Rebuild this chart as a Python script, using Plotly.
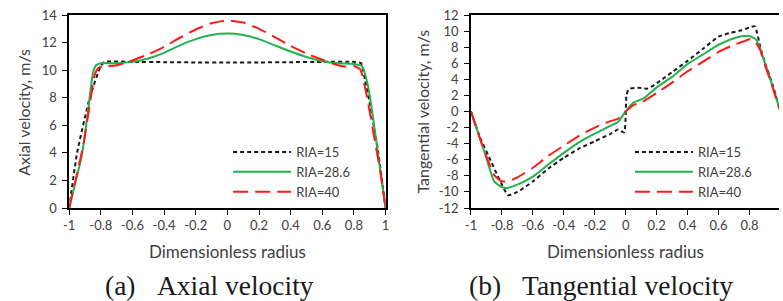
import plotly.graph_objects as go

# ---------------- data ----------------
series_names = ["RIA=15", "RIA=28.6", "RIA=40"]

# (a) Axial velocity
ax_r15 = [-1, -0.95, -0.87, -0.8, -0.775, -0.6, -0.4, -0.2, 0, 0.2, 0.4, 0.6, 0.8, 0.845, 0.87, 0.9, 0.95, 1]
ax_v15 = [0, 4.0, 8.0, 10.3, 10.6, 10.6, 10.58, 10.56, 10.55, 10.56, 10.58, 10.6, 10.6, 10.5, 9.3, 7.6, 4.3, 0]

ax_r28 = [-1, -0.96, -0.92, -0.88, -0.85, -0.83, -0.8, -0.7, -0.6, -0.5, -0.4, -0.3, -0.2, -0.1, 0,
          0.1, 0.2, 0.3, 0.4, 0.5, 0.6, 0.7, 0.8, 0.85, 0.89, 0.93, 0.97, 1]
ax_v28 = [0, 1.9, 3.8, 7.1, 9.8, 10.35, 10.5, 10.5, 10.6, 10.85, 11.25, 11.8, 12.25, 12.55, 12.65,
          12.55, 12.25, 11.8, 11.35, 10.95, 10.65, 10.5, 10.45, 10.3, 8.8, 5.8, 2.4, 0]

ax_r40 = [-1, -0.95, -0.91, -0.87, -0.84, -0.82, -0.79, -0.75, -0.7, -0.6, -0.5, -0.4, -0.3, -0.2, -0.1, 0,
          0.1, 0.2, 0.3, 0.4, 0.5, 0.6, 0.7, 0.75, 0.8, 0.84, 0.88, 0.93, 0.97, 1]
ax_v40 = [0, 2.5, 4.6, 7.5, 9.6, 10.1, 10.3, 10.3, 10.35, 10.7, 11.15, 11.7, 12.35, 12.95, 13.4, 13.6,
          13.45, 13.0, 12.4, 11.75, 11.2, 10.75, 10.35, 10.25, 10.3, 10.05, 8.2, 5.0, 2.4, 0]

# (b) Tangential velocity
tg_r15 = [-1, -0.94, -0.88, -0.82, -0.76, -0.7, -0.6, -0.5, -0.4, -0.3, -0.2, -0.1, -0.05, -0.01, 0.005, 0.02,
          0.08, 0.14, 0.2, 0.25, 0.3, 0.4, 0.5, 0.6, 0.68, 0.75, 0.8, 0.835, 0.87, 0.9, 0.95, 1]
tg_v15 = [0, -3.3, -5.8, -8.3, -10.4, -10.0, -8.7, -7.1, -5.75, -4.6, -3.7, -2.8, -2.25, -2.6, 2.0, 2.8,
          2.95, 2.85, 3.5, 4.2, 4.9, 6.3, 7.8, 9.3, 9.8, 10.1, 10.45, 10.6, 8.0, 6.1, 3.3, 0]

tg_r28 = [-1, -0.95, -0.9, -0.85, -0.8, -0.77, -0.7, -0.6, -0.5, -0.4, -0.3, -0.2, -0.1, -0.05, 0,
          0.05, 0.12, 0.2, 0.3, 0.4, 0.5, 0.6, 0.7, 0.75, 0.8, 0.84, 0.87, 0.9, 0.95, 1]
tg_v28 = [0, -2.9, -5.8, -8.7, -9.4, -9.5, -9.1, -8.1, -6.6, -5.15, -3.8, -2.75, -1.8, -1.3, 0,
          1.1, 1.7, 3.0, 4.3, 5.9, 7.1, 8.3, 9.1, 9.35, 9.4, 9.0, 7.8, 6.0, 3.1, 0]

tg_r40 = [-1, -0.95, -0.9, -0.85, -0.8, -0.75, -0.7, -0.6, -0.5, -0.4, -0.3, -0.2, -0.1, -0.05, 0,
          0.05, 0.1, 0.2, 0.3, 0.4, 0.5, 0.6, 0.7, 0.76, 0.8, 0.84, 0.87, 0.9, 0.95, 1]
tg_v40 = [0, -2.9, -5.6, -7.9, -8.7, -8.6, -8.2, -7.0, -5.5, -4.25, -3.0, -2.0, -1.2, -0.9, 0,
          0.8, 1.1, 2.3, 3.6, 5.0, 6.2, 7.4, 8.3, 8.7, 9.0, 8.6, 7.6, 5.8, 3.0, 0]

x_tickvals = [-1, -0.8, -0.6, -0.4, -0.2, 0, 0.2, 0.4, 0.6, 0.8, 1]
x_ticktext = ["-1", "-0.8", "-0.6", "-0.4", "-0.2", "0", "0.2", "0.4", "0.6", "0.8", "1"]
ax_y_tickvals = [0, 2, 4, 6, 8, 10, 12, 14]
ax_y_ticktext = ["0", "2", "4", "6", "8", "10", "12", "14"]
tg_y_tickvals = [-12, -10, -8, -6, -4, -2, 0, 2, 4, 6, 8, 10, 12]
tg_y_ticktext = ["-12", "-10", "-8", "-6", "-4", "-2", "0", "2", "4", "6", "8", "10", "12"]

# ---------------- styling ----------------
W, H = 783, 301
ML, MR, MT, MB = 0, 0, 15, 93
PW, PH = W - ML - MR, H - MT - MB

def px_x(p):
    return (p - ML) / PW

def px_y(p):
    return (H - MB - p) / PH

colors = ["#1a1a1a", "#22b14c", "#ff1a1a"]
dashes = ["4px,3px", "solid", "15px,7px"]
tick_font = dict(family="Lato", size=13, color="#404040")

fig = go.Figure()

axial = [(ax_r15, ax_v15), (ax_r28, ax_v28), (ax_r40, ax_v40)]
tang = [(tg_r15, tg_v15), (tg_r28, tg_v28), (tg_r40, tg_v40)]

for i, (r, v) in enumerate(axial):
    fig.add_trace(go.Scatter(x=r, y=v, mode="lines", name=series_names[i],
                             line=dict(color=colors[i], width=2, dash=dashes[i], shape="spline", smoothing=0.5),
                             xaxis="x", yaxis="y", legend="legend"))
for i, (r, v) in enumerate(tang):
    fig.add_trace(go.Scatter(x=r, y=v, mode="lines", name=series_names[i],
                             line=dict(color=colors[i], width=2, dash=dashes[i], shape="spline", smoothing=0.5),
                             xaxis="x2", yaxis="y2", legend="legend2"))

common_axis = dict(showline=True, linecolor="black", linewidth=1.5, ticks="outside", ticklen=5,
                   tickcolor="black", tickwidth=1.3, showgrid=False, zeroline=False, tickfont=tick_font)

fig.update_layout(
    width=W, height=H,
    margin=dict(l=ML, r=MR, t=MT, b=MB),
    paper_bgcolor="white", plot_bgcolor="white",
    xaxis=dict(domain=[px_x(64), px_x(384.5)], range=[-1, 1], tickvals=x_tickvals, ticktext=x_ticktext,
               mirror=True, anchor="y", **common_axis),
    yaxis=dict(domain=[0, 1], range=[0, 14], tickvals=ax_y_tickvals, ticktext=ax_y_ticktext,
               mirror=True, anchor="x", ticklabelstandoff=3, **common_axis),
    xaxis2=dict(domain=[px_x(471), 1], range=[-1, 0.991], tickvals=x_tickvals, ticktext=x_ticktext,
                mirror=True, anchor="y2", **common_axis),
    yaxis2=dict(domain=[0, 1], range=[-12, 12], tickvals=tg_y_tickvals, ticktext=tg_y_ticktext,
                mirror=False, anchor="x2", ticklabelstandoff=3, **common_axis),
    legend=dict(x=px_x(225), y=px_y(137), xanchor="left", yanchor="top", itemwidth=58,
                bgcolor="rgba(0,0,0,0)", font=dict(family="Lato", size=13, color="#404040")),
    legend2=dict(x=px_x(632), y=px_y(137), xanchor="left", yanchor="top", itemwidth=58,
                 bgcolor="rgba(0,0,0,0)", font=dict(family="Lato", size=13, color="#404040")),
)

ytitle_font = dict(family="Lato", size=16, color="#404040")
xtitle_font = dict(family="Lato", size=17, color="#404040")
cap_font = dict(family="Liberation Serif", size=27.5, color="#1a1a1a")
annots = [
    dict(text="Axial velocity, m/s", x=px_x(17), y=px_y(112), textangle=-90, font=ytitle_font),
    dict(text="Tangential velocity, m/s", x=px_x(421), y=px_y(112), textangle=-90, font=ytitle_font),
    dict(text="Dimensionless radius", x=px_x(224), y=px_y(252), font=xtitle_font),
    dict(text="Dimensionless radius", x=px_x(628), y=px_y(252), font=xtitle_font),
]
for a in annots:
    fig.add_annotation(xref="paper", yref="paper", showarrow=False, xanchor="center", yanchor="middle", **a)

caps = [("(a)", 98), ("Axial velocity", 151), ("(b)", 467), ("Tangential velocity", 521)]
for t, xl in caps:
    fig.add_annotation(text=t, xref="paper", yref="paper", x=px_x(xl), y=px_y(285), showarrow=False,
                       xanchor="left", yanchor="middle", font=cap_font)

fig.write_html("out.html", config={"displayModeBar": False},
               post_script="document.body.style.margin='0';")
